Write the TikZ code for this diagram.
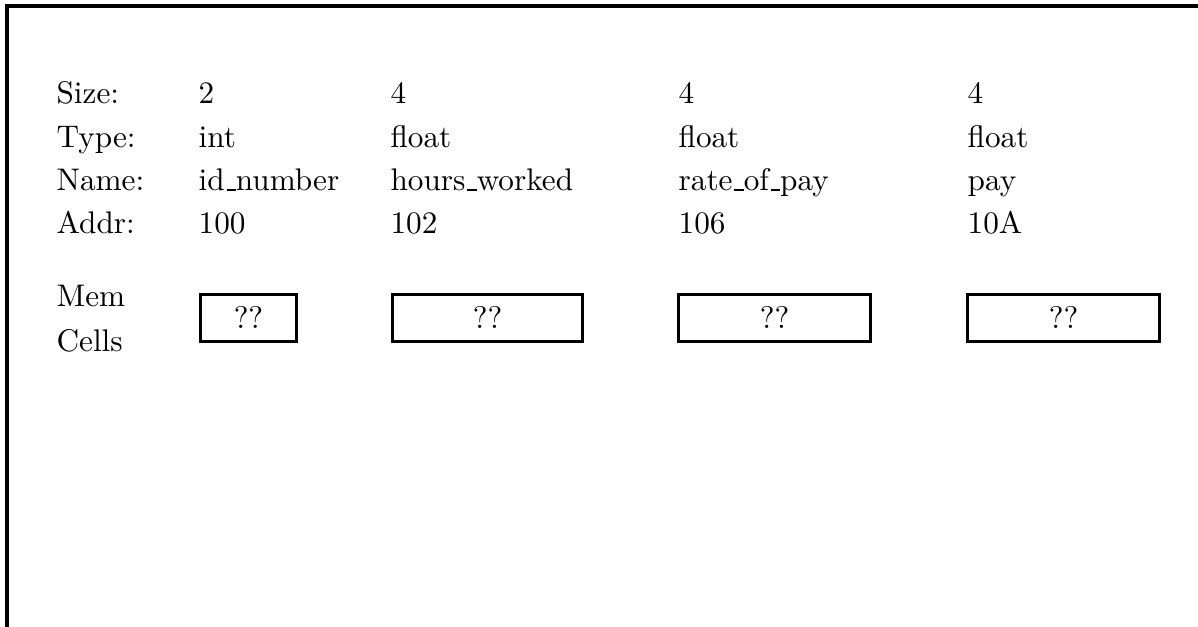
\documentclass[tikz,border=0pt]{standalone}
\newcommand\uscore{\kern0.06em\rule{0.3em}{0.6pt}}
\begin{document}
\begin{tikzpicture}[x=0.32pt,y=-0.32pt,
  lbl/.style={anchor=base west,inner sep=0pt,font=\fontsize{10}{12}\selectfont},
  cell/.style={draw,line width=0.96pt,inner sep=0pt,minimum height=47*0.32pt,font=\fontsize{10}{12}\selectfont},
  frameline/.style={line width=1.28pt}]
\useasboundingbox (0,0) rectangle (1198,627);
\clip (0,0) rectangle (1198,627);
% frame
\coordinate (fb) at (7,700);
\coordinate (fc) at (7,6);
\coordinate (fr) at (1300,6);
\draw[frameline] (fb) -- (fc) -- (fr);
% row labels
\node[lbl] (lsize) at (56,104) {Size:};
\node[lbl] (ltype) at (56,147.5) {Type:};
\node[lbl] (lname) at (56,191) {Name:};
\node[lbl] (laddr) at (56,234) {Addr:};
\node[lbl] (lmem) at (56,306.5) {Mem};
\node[lbl] (lcells) at (56,351.5) {Cells};
% column 1
\node[lbl] (s1) at (198,104) {2};
\node[lbl] (t1) at (198,147.5) {int};
\node[lbl] (n1) at (198,191) {id\uscore number};
\node[lbl] (a1) at (198,234) {100};
% column 2
\node[lbl] (s2) at (390,104) {4};
\node[lbl] (t2) at (390,147.5) {float};
\node[lbl] (n2) at (390,191) {hours\uscore worked};
\node[lbl] (a2) at (390,234) {102};
% column 3
\node[lbl] (s3) at (678,104) {4};
\node[lbl] (t3) at (678,147.5) {float};
\node[lbl] (n3) at (678,191) {rate\uscore of\uscore pay};
\node[lbl] (a3) at (678,234) {106};
% column 4
\node[lbl] (s4) at (967,104) {4};
\node[lbl] (t4) at (967,147.5) {float};
\node[lbl] (n4) at (967,191) {pay};
\node[lbl] (a4) at (967,234) {10A};
% memory cells
\node[cell,minimum width=96*0.32pt] (c1) at (248.5,318) {??};
\node[cell,minimum width=190*0.32pt] (c2) at (487.5,318) {??};
\node[cell,minimum width=192*0.32pt] (c3) at (774.5,318) {??};
\node[cell,minimum width=192*0.32pt] (c4) at (1063.5,318) {??};
\end{tikzpicture}
\end{document}
